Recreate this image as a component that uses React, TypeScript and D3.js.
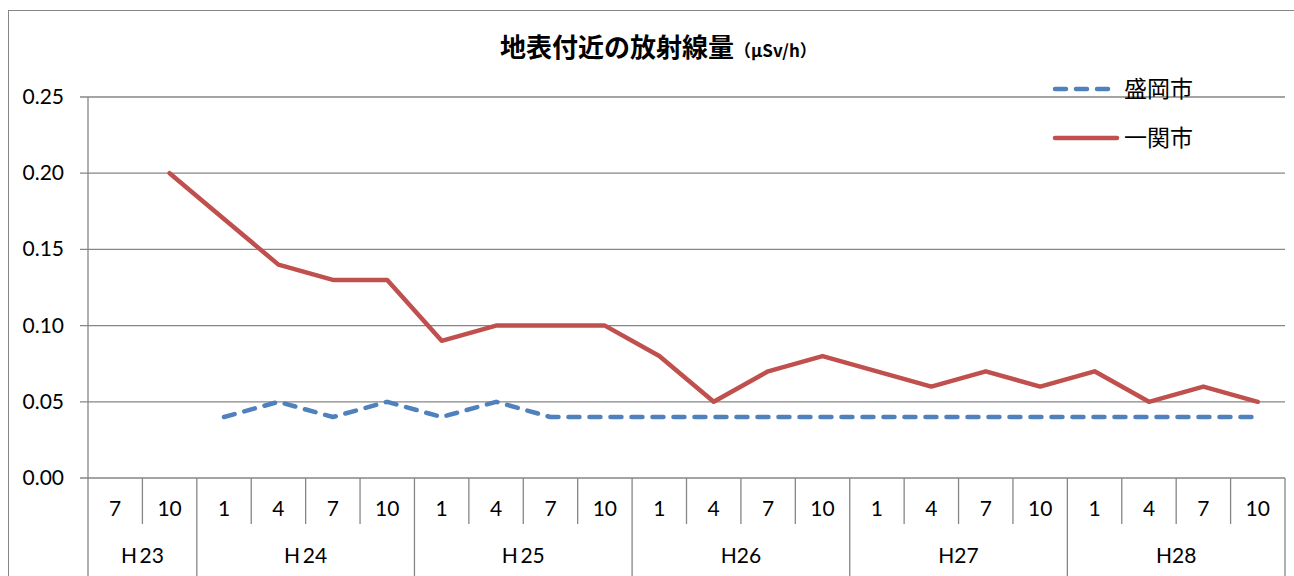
import React from "react";
import * as d3 from "d3";

const months = ["7", "10", "1", "4", "7", "10", "1", "4", "7", "10", "1", "4", "7", "10", "1", "4", "7", "10", "1", "4", "7", "10"];
const groups = [
  { label: "H\u200923", start: 0, count: 2 },
  { label: "H\u200924", start: 2, count: 4 },
  { label: "H\u200925", start: 6, count: 4 },
  { label: "H26", start: 10, count: 4 },
  { label: "H27", start: 14, count: 4 },
  { label: "H28", start: 18, count: 4 },
];
const morioka: (number | null)[] = [null, null, 0.04, 0.05, 0.04, 0.05, 0.04, 0.05, 0.04, 0.04, 0.04, 0.04, 0.04, 0.04, 0.04, 0.04, 0.04, 0.04, 0.04, 0.04, 0.04, 0.04];
const ichinoseki: (number | null)[] = [null, 0.2, 0.17, 0.14, 0.13, 0.13, 0.09, 0.1, 0.1, 0.1, 0.08, 0.05, 0.07, 0.08, 0.07, 0.06, 0.07, 0.06, 0.07, 0.05, 0.06, 0.05];
const yTicks = [0, 0.05, 0.1, 0.15, 0.2, 0.25];

const W = 1294, H = 576;
const left = 88, right = 1285, top = 97, bottom = 478;
const BLUE = "#4F81BD", RED = "#C0504D", GRID = "#868686";
const FONT = "Lato, 'Liberation Sans', sans-serif";
const JP = "'Noto Sans CJK JP', sans-serif";

export default function App() {
  const n = months.length;
  const x = d3.scaleLinear().domain([0, n]).range([left, right]);
  const y = d3.scaleLinear().domain([0, 0.25]).range([bottom, top]);
  const cx = (i: number) => x(i + 0.5);
  const line = d3
    .line<number | null>()
    .defined((d) => d != null)
    .x((_, i) => cx(i))
    .y((d) => y(d as number));

  return (
    <svg width={W} height={H} style={{ position: "absolute", left: 0, top: 0, background: "#fff" }}>
      <rect x={8.5} y={10.5} width={1300} height={600} fill="none" stroke={GRID} strokeWidth={1} />
      <text x={500} y={57} textAnchor="start" fontFamily={JP} fontWeight="bold" fontSize={26} fill="#000">
        地表付近の放射線量<tspan fontSize={17}>（µSv/h）</tspan>
      </text>
      {yTicks.map((t) => (
        <g key={t}>
          <line x1={left - 8} x2={right} y1={y(t)} y2={y(t)} stroke={GRID} strokeWidth={1.3} />
          <text x={64} y={y(t) + 7} textAnchor="end" fontFamily={FONT} fontSize={21} fill="#000">
            {t.toFixed(2)}
          </text>
        </g>
      ))}
      <line x1={left} x2={left} y1={top} y2={576} stroke={GRID} strokeWidth={1.3} />
      {d3.range(1, n + 1).map((i) => {
        const isGroupEnd = groups.some((g) => g.start === i) || i === n;
        return (
          <line key={i} x1={x(i)} x2={x(i)} y1={bottom} y2={isGroupEnd ? 576 : 524} stroke={GRID} strokeWidth={1.3} />
        );
      })}
      {months.map((m, i) => (
        <text key={i} x={cx(i)} y={516} textAnchor="middle" fontFamily={FONT} fontSize={21} fill="#000">
          {m}
        </text>
      ))}
      {groups.map((g) => (
        <text key={g.label} x={x(g.start + g.count / 2)} y={563} textAnchor="middle" fontFamily={FONT} fontSize={21} fill="#000">
          {g.label}
        </text>
      ))}
      <path d={line(morioka) || ""} fill="none" stroke={BLUE} strokeWidth={4.5} strokeDasharray="11,10" strokeLinecap="round" strokeLinejoin="round" />
      <path d={line(ichinoseki) || ""} fill="none" stroke={RED} strokeWidth={4.5} strokeLinecap="round" strokeLinejoin="round" />
      <line x1={1055} x2={1110} y1={89} y2={89} stroke={BLUE} strokeWidth={4.5} strokeDasharray="11,10" strokeLinecap="round" />
      <text x={1124} y={97} fontFamily={JP} fontSize={23} fill="#000">盛岡市</text>
      <line x1={1055} x2={1117} y1={138} y2={138} stroke={RED} strokeWidth={4.5} strokeLinecap="round" />
      <text x={1124} y={146} fontFamily={JP} fontSize={23} fill="#000">一関市</text>
    </svg>
  );
}
